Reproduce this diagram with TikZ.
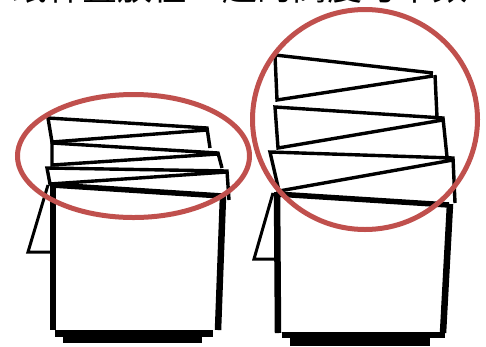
\documentclass[tikz,border=0pt]{standalone}
\usepackage{fontspec}
\newfontfamily\cjkfont{Noto Sans CJK SC}
\definecolor{ringred}{HTML}{C0504D}
\begin{document}
\begin{tikzpicture}[x=1pt,y=-1pt,
  stackline/.style={line width=3.4pt,line join=miter,line cap=butt},
  bodyline/.style={line width=6.5pt,line cap=butt},
  rimline/.style={line width=5.5pt,line cap=butt},
  handleline/.style={line width=3pt,line join=miter},
  ring/.style={draw=ringred,line width=5pt}]
\useasboundingbox (0,0) rectangle (486,346);
\fill[white] (0,0) rectangle (486,346);

% heading line, only its lower edge shows at the top
\begin{scope}
  \clip (0,0) rectangle (486,5);
  \node[anchor=base west,inner sep=0pt,font=\cjkfont\fontsize{35}{35}\selectfont] (title) at (12,0.5) {纸杯叠放在一起的高度与个数};
\end{scope}

% ---------- left stack: three cups on a base cup ----------
\draw[stackline] (207,130) -- (52,142) -- (48,118) -- (207,128) -- (210,148);
\draw[stackline] (218,154) -- (52,165) -- (52,143) -- (218,153) -- (222,168);
\draw[stackline] (227,172) -- (50,184) -- (47,168) -- (227,171) -- (229,200);
% base cup
\draw[handleline] (48,185) -- (28,252) -- (52,252);
\draw[bodyline] (53,184) -- (53,330);
\draw[bodyline] (223,196) -- (218,330);
\draw[rimline] (52,185) -- (222,196);
\fill (55,330) rectangle (213,337);
\fill (63,337) rectangle (202,343);

% ---------- right stack: three cups on a base cup ----------
\draw[stackline] (433,76) -- (277,100) -- (275,55) -- (433,73);
\draw[stackline] (435,75) -- (437,117);
\draw[stackline] (443,120) -- (278,148) -- (275,107) -- (443,118) -- (447,157);
\draw[stackline] (453,160) -- (279,191) -- (270,152) -- (453,158) -- (455,203);
% base cup
\draw[handleline] (273,193) -- (254,259) -- (275,259);
\draw[bodyline] (277,192) -- (278,333);
\draw[bodyline] (450,204) -- (443,333);
\draw[rimline] (276,194) -- (449,205);
\fill (282,332) rectangle (445,338);
\fill (290,338) rectangle (430,346);

% ---------- highlight rings ----------
\draw[ring] (133.5,156) ellipse [x radius=116, y radius=61.5];
\draw[ring] (365,119.5) ellipse [x radius=112.5, y radius=110];
\end{tikzpicture}
\end{document}
